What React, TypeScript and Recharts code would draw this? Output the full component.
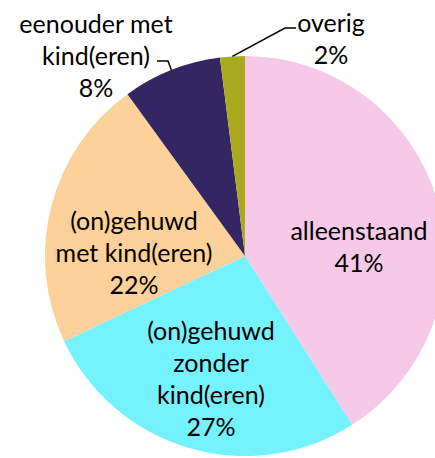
import React from "react";
import { PieChart, Pie, Cell } from "recharts";

const categories = [
  "alleenstaand",
  "(on)gehuwd zonder kind(eren)",
  "(on)gehuwd met kind(eren)",
  "eenouder met kind(eren)",
  "overig",
];
const shares = [41, 27, 22, 8, 2];
const labelLines = [
  ["alleenstaand", "41%"],
  ["(on)gehuwd", "zonder", "kind(eren)", "27%"],
  ["(on)gehuwd", "met kind(eren)", "22%"],
  ["eenouder met", "kind(eren)", "8%"],
  ["overig", "2%"],
];
const colors = ["#F5C9E7", "#74F2FE", "#FDD199", "#332662", "#ABAA1F"];

// layout: label block centre offsets from pie centre, and leader elbows
const labelLayout = [
  { dx: 114, dy: -10, leader: null },
  { dx: -34, dy: 122, leader: null },
  { dx: -111, dy: -4, leader: null },
  { dx: -149, dy: -201, leader: { elbow: [-77, -195], end: [-88, -195] } },
  { dx: 86, dy: -218, leader: { elbow: [40, -228], end: [51, -228] } },
];

const data = categories.map((name, i) => ({ name, value: shares[i], idx: i }));

const RAD = Math.PI / 180;
const LINE_H = 32;

const renderLabel = (props: any) => {
  const { cx, cy, midAngle, outerRadius, index } = props;
  const lay = labelLayout[index];
  const lines = labelLines[index];
  const x = cx + lay.dx;
  const yc = cy + lay.dy;
  const y0 = yc - ((lines.length - 1) * LINE_H) / 2;
  let leader = null;
  if (lay.leader) {
    const sx = cx + outerRadius * Math.cos(-midAngle * RAD);
    const sy = cy + outerRadius * Math.sin(-midAngle * RAD);
    const pts = [
      [sx, sy],
      [cx + lay.leader.elbow[0], cy + lay.leader.elbow[1]],
      [cx + lay.leader.end[0], cy + lay.leader.end[1]],
    ]
      .map((p) => p.join(","))
      .join(" ");
    leader = <polyline points={pts} fill="none" stroke="#000" strokeWidth={1.5} />;
  }
  return (
    <g key={"lbl" + index}>
      {leader}
      {lines.map((t, j) => (
        <text
          key={j}
          x={x}
          y={y0 + j * LINE_H}
          textAnchor="middle"
          dominantBaseline="central"
          fill="#000"
          fontSize={25}
          fontFamily="Lato, 'Open Sans', sans-serif"
        >
          {t}
        </text>
      ))}
    </g>
  );
};

export default function App() {
  return (
    <div
      style={{
        position: "fixed",
        left: 0,
        top: 0,
        width: 435,
        height: 458,
        overflow: "hidden",
        background: "#fff",
      }}
    >
      <PieChart width={435} height={458} margin={{ top: 0, right: 0, bottom: 0, left: 0 }}>
        <Pie
          data={data}
          dataKey="value"
          nameKey="name"
          cx={245}
          cy={256}
          outerRadius={200}
          startAngle={90}
          endAngle={-270}
          stroke="none"
          label={renderLabel}
          labelLine={false}
          isAnimationActive={false}
        >
          {data.map((d, i) => (
            <Cell key={i} fill={colors[i]} />
          ))}
        </Pie>
      </PieChart>
    </div>
  );
}
